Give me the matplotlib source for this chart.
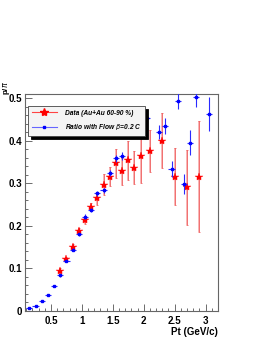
import numpy as np
import matplotlib
matplotlib.use('Agg')
import matplotlib.pyplot as plt
from matplotlib.ticker import MultipleLocator

plt.rcParams['font.family'] = ['Liberation Sans', 'DejaVu Sans']

# blue: ratio with flow beta=0.2 c
pt_flow = [0.15, 0.25, 0.35, 0.45, 0.55, 0.65, 0.75, 0.85, 0.95, 1.05,
           1.15, 1.25, 1.35, 1.45, 1.55, 1.65, 1.75, 1.85, 1.95, 2.05,
           2.25, 2.35, 2.45, 2.55, 2.65, 2.75, 2.85, 3.05]
ratio_flow = [0.008, 0.012, 0.024, 0.038, 0.059, 0.084, 0.117, 0.144, 0.180, 0.222,
              0.238, 0.277, 0.284, 0.324, 0.359, 0.365, 0.42, 0.44, 0.45, 0.453,
              0.42, 0.435, 0.334, 0.494, 0.298, 0.396, 0.504, 0.464]
err_flow = [0.002, 0.002, 0.002, 0.002, 0.002, 0.003, 0.003, 0.003, 0.004, 0.005,
            0.005, 0.006, 0.006, 0.007, 0.008, 0.009, 0.01, 0.01, 0.01, 0.012,
            0.016, 0.018, 0.018, 0.019, 0.024, 0.03, 0.025, 0.04]

# red: data Au+Au 60-90 %
pt_data = [0.65, 0.75, 0.85, 0.95, 1.05, 1.15, 1.25, 1.35, 1.45, 1.55,
           1.65, 1.75, 1.85, 1.95, 2.1, 2.3, 2.5, 2.7, 2.9]
ratio_data = [0.094, 0.122, 0.151, 0.188, 0.214, 0.245, 0.265, 0.297, 0.316, 0.347,
              0.328, 0.354, 0.337, 0.365, 0.376, 0.40, 0.316, 0.291, 0.316]
err_data = [0.006, 0.006, 0.007, 0.008, 0.009, 0.01, 0.015, 0.025, 0.022, 0.034,
            0.031, 0.045, 0.038, 0.065, 0.05, 0.065, 0.068, 0.088, 0.13]

fig = plt.figure(figsize=(2.62, 3.39), dpi=100)
ax = fig.add_axes([0.0954, 0.0826, 0.7366, 0.6401])

ax.errorbar(pt_data, ratio_data, yerr=err_data, fmt='none', ecolor='#f8b4b4',
            elinewidth=1.4, zorder=2)
ax.errorbar(pt_data, ratio_data, yerr=err_data, fmt='none', ecolor='#ee5555',
            elinewidth=0.5, capsize=0.8, capthick=0.5, zorder=3)
ax.plot(pt_data, ratio_data, linestyle='none', marker='*', color='red',
        markersize=6, markeredgewidth=0.3, zorder=4)

ax.errorbar(pt_flow, ratio_flow, xerr=0.05, yerr=err_flow, fmt='s', color='blue',
            markersize=1.8, elinewidth=0.8, ecolor='#2a2aff', zorder=5)

# legend handles
h1, = ax.plot([], [], color='#ff4444', marker='*', markersize=6, lw=0.8,
              markerfacecolor='red', markeredgecolor='red')
h2, = ax.plot([], [], color='#6666ff', marker='s', markersize=1.8, lw=0.8,
              markerfacecolor='blue', markeredgecolor='blue')
leg = ax.legend([h1, h2], ['Data (Au+Au 60-90 %)', r'Ratio with Flow $\beta$=0.2 C'],
                loc='upper left', bbox_to_anchor=(0.015, 0.945), fancybox=False,
                shadow={'color': 'black', 'alpha': 1, 'ox': 2, 'oy': -2}, framealpha=1,
                prop={'size': 4.8, 'style': 'italic', 'weight': 'bold'},
                handlelength=3.8, borderpad=0.55, labelspacing=0.85,
                handletextpad=1.2, borderaxespad=0)
leg.get_frame().set_edgecolor('#444444')
leg.get_frame().set_linewidth(0.6)
leg.get_frame().set_facecolor('#f4f4f4')
leg.set_zorder(10)

ax.set_xlim(0.08, 3.2)
ax.set_ylim(0, 0.51)
ax.xaxis.set_minor_locator(MultipleLocator(0.1))
ax.yaxis.set_minor_locator(MultipleLocator(0.02))
ax.set_xticks([0.5, 1, 1.5, 2, 2.5, 3])
ax.set_xticklabels(['0.5', '1', '1.5', '2', '2.5', '3'])
ax.set_yticks([0, 0.1, 0.2, 0.3, 0.4, 0.5])
ax.set_yticklabels(['0', '0.1', '0.2', '0.3', '0.4', '0.5'])
ax.tick_params(which='both', direction='in', top=False, right=False,
               labelsize=7, width=0.6, color='#555555')
ax.tick_params(which='major', length=5)
ax.tick_params(which='minor', length=2.5)
ax.tick_params(axis='y', pad=2.2)
for lab in ax.get_xticklabels() + ax.get_yticklabels():
    lab.set_fontweight('bold')
for sp in ax.spines.values():
    sp.set_color('#666666')
    sp.set_linewidth(0.8)

ax.set_xlabel('Pt (GeV/c)', loc='right', fontsize=7, fontweight='bold', labelpad=1)
fig.text(1 / 262, 1 - 81 / 339, r'p/$\pi$', rotation=90,
         ha='left', va='top', fontsize=5.8, fontweight='bold')

fig.savefig('out.png', dpi=100)
